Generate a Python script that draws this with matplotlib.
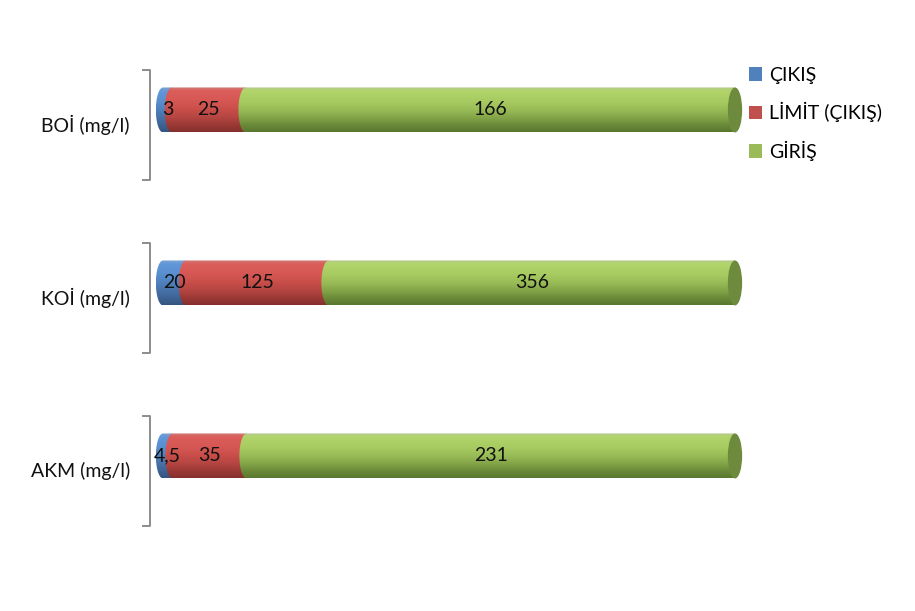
import numpy as np
import matplotlib
matplotlib.use("Agg")
import matplotlib.pyplot as plt
from matplotlib.patches import Polygon, Ellipse, Patch
from matplotlib.colors import to_rgb

plt.rcParams['font.family'] = ['Lato', 'DejaVu Sans']

categories = ['BOİ (mg/l)', 'KOİ (mg/l)', 'AKM (mg/l)']
series = ['ÇIKIŞ', 'LİMİT (ÇIKIŞ)', 'GİRİŞ']
cikis = [3, 20, 4.5]
limit = [25, 125, 35]
giris = [166, 356, 231]
value_labels = [['3', '25', '166'], ['20', '125', '356'], ['4,5', '35', '231']]

colors = ['#4F81BD', '#C0504D', '#9BBB59']
dark_caps = '#6E8B3D'
# top -> bottom shading stops of each cylinder
stops = [
    ['#7FA3CF', '#6098DA', '#5A8FD0', '#4F81BD', '#4672A8', '#3D6394', '#34557F'],
    ['#CF7A76', '#DB5E5A', '#D65753', '#C94E4A', '#B44541', '#9A3935', '#85302D'],
    ['#B4C98A', '#B2D56B', '#A9CC62', '#99BC57', '#84A548', '#6A8A38', '#5A7830'],
]

# 0..100 % spans pixels 163..735 -> 5.72 px per unit
fig = plt.figure(figsize=(9.15, 6.11), dpi=100)
ax = fig.add_axes([(163 - 5 * 5.72) / 915, (611 - 557.5) / 611, 110 * 5.72 / 915, 519 / 611])

bar_h = 0.26
offset = -0.087
rx = 1.25  # half width of the cylinder's ellipse, in percent units


def gradient(cols):
    rgb = np.array([to_rgb(c) for c in cols])
    xs = np.array([0, 0.08, 0.3, 0.5, 0.68, 0.85, 1.0])
    t = np.linspace(0, 1, 80)
    g = np.column_stack([np.interp(t, xs, rgb[:, k]) for k in range(3)])
    return g[:, None, :]


data = np.array([cikis, limit, giris], dtype=float).T
for i in range(len(categories)):
    row = data[i]
    pct = row / row.sum() * 100
    yc = i + offset
    top, bot = yc - bar_h / 2, yc + bar_h / 2
    left = 0
    for j in range(3):
        x0, x1 = left, left + pct[j]
        th = np.linspace(np.pi / 2, 3 * np.pi / 2, 40)
        pts = np.column_stack([x0 + rx * np.cos(th), yc - bar_h / 2 * np.sin(th)])
        pts = np.vstack([pts, [[x1, bot], [x1, top]]])
        poly = Polygon(pts, closed=True, facecolor='none', edgecolor='none')
        ax.add_patch(poly)
        im = ax.imshow(gradient(stops[j]), extent=(x0 - rx, x1, bot, top),
                       origin='upper', aspect='auto', interpolation='bilinear', zorder=2 + j)
        im.set_clip_path(poly)
        ax.text((x0 + x1) / 2, yc, value_labels[i][j], ha='center', va='center',
                fontsize=14, color='#111111', zorder=10)
        left = x1
    ax.add_patch(Ellipse((100, yc), 2 * rx, bar_h, facecolor=dark_caps,
                         edgecolor='none', zorder=6))

# category brackets
for i, cat in enumerate(categories):
    ax.plot([-3.5, -2.27, -2.27, -3.5], [i - 0.318, i - 0.318, i + 0.318, i + 0.318],
            color='#8c8c8c', lw=1.4, clip_on=False)
    ax.text(-5.8, i, cat, ha='right', va='center', fontsize=14, color='#111111',
            clip_on=False)

ax.set_xlim(-5, 105)
ax.set_ylim(2.5, -0.5)
ax.axis('off')

handles = [Patch(facecolor=c, edgecolor='none') for c in colors]
fig.legend(handles, series, loc='upper left', bbox_to_anchor=(731 / 915, 1 - 49 / 611),
           frameon=False, fontsize=14, handlelength=0.7, handleheight=0.7,
           handletextpad=0.35, labelspacing=0.95)

fig.savefig('out.png', dpi=100)
